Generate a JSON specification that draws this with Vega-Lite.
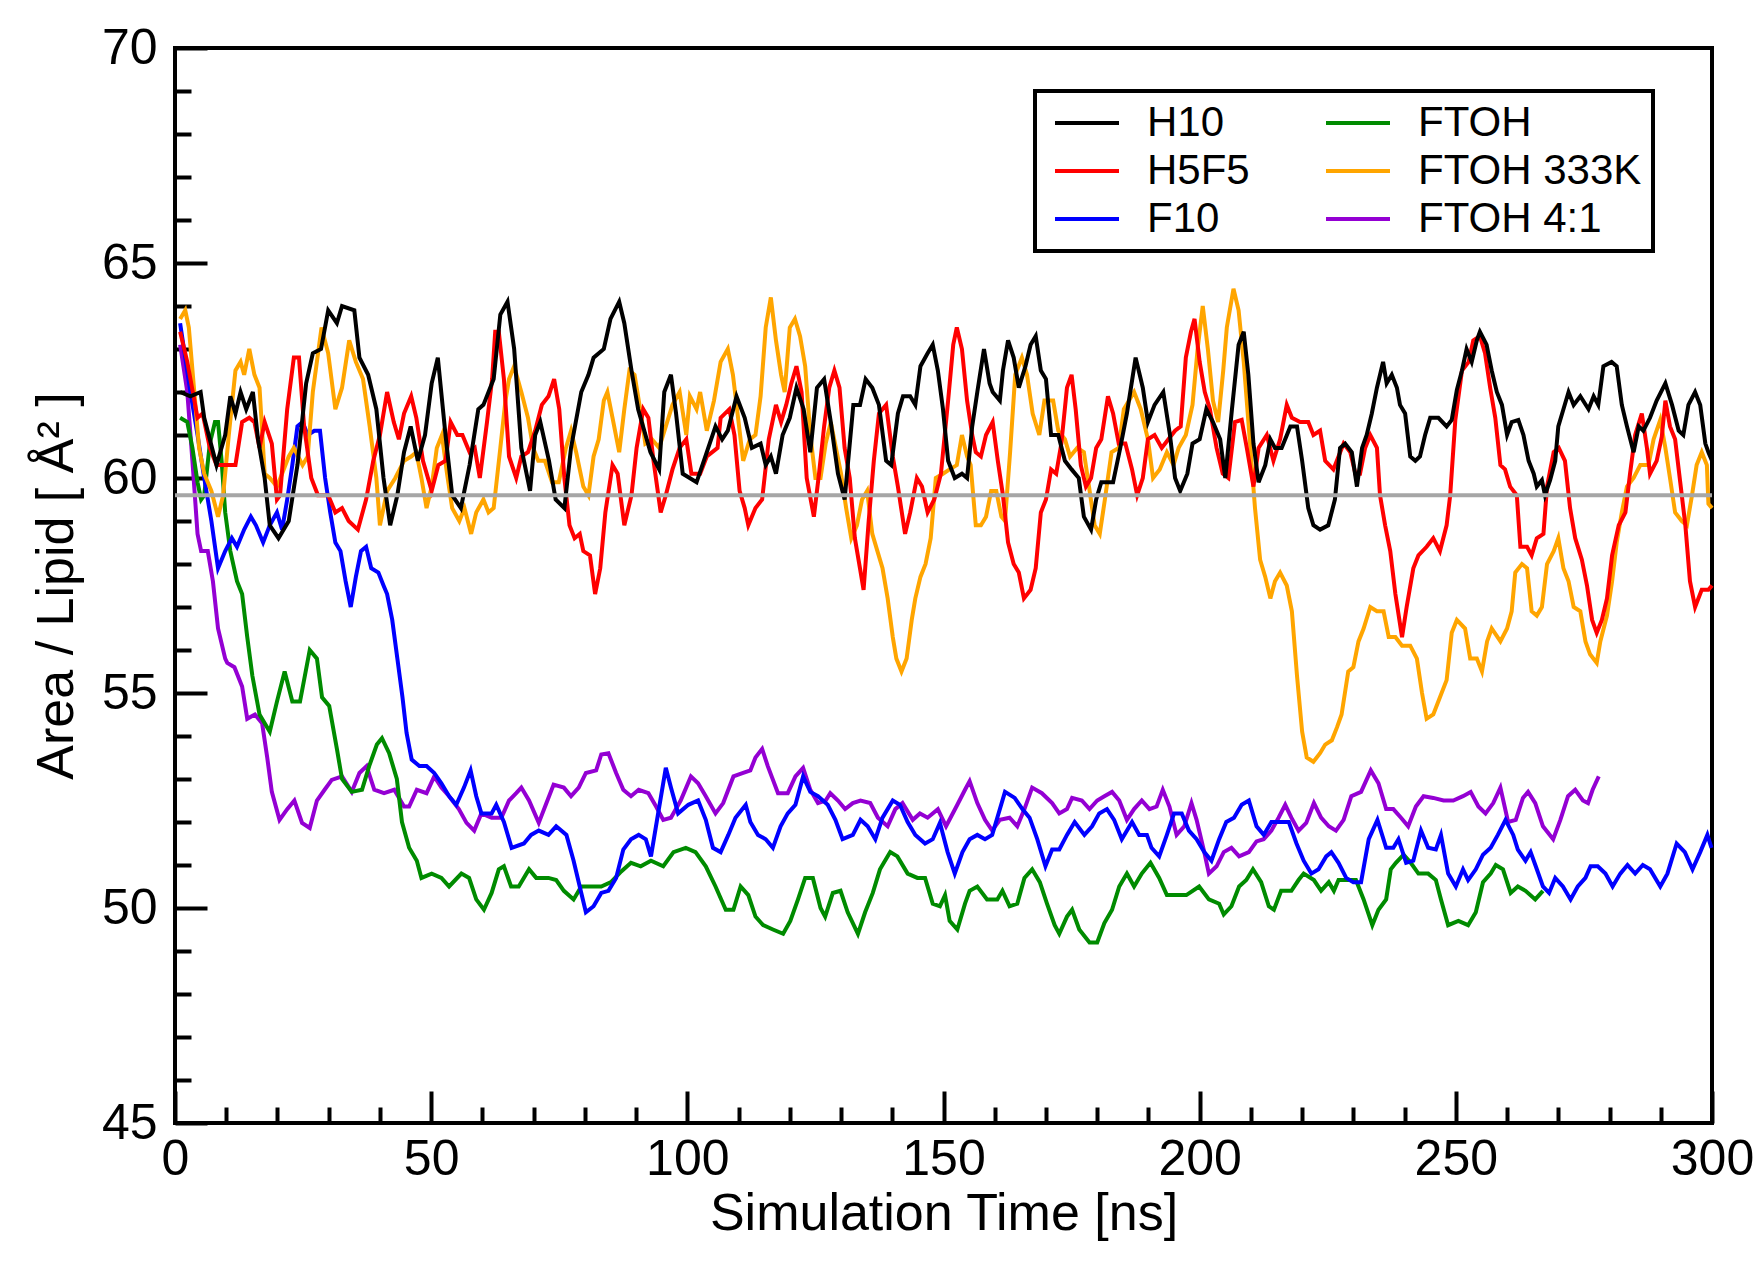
{
  "$schema": "https://vega.github.io/schema/vega-lite/v6.json",
  "width": 1537,
  "height": 1075,
  "autosize": "none",
  "padding": {"left": 175, "top": 48, "right": 52, "bottom": 143},
  "background": "white",
  "config": {
    "view": {"stroke": "black", "strokeWidth": 4},
    "axis": {
      "domain": false,
      "grid": false,
      "labelFont": "Liberation Sans",
      "labelFontSize": 50,
      "labelColor": "black",
      "labelFlush": false,
      "labelOverlap": false,
      "titleFont": "Liberation Sans",
      "titleFontSize": 52,
      "titleFontWeight": "normal",
      "titleColor": "black",
      "tickColor": "black",
      "tickWidth": 4
    },
    "legend": {"strokeWidth": 4},
    "line": {"strokeWidth": 4}
  },
  "layer": [
    {
      "encoding": {
        "x": {
          "field": "t",
          "type": "quantitative",
          "title": "Simulation Time [ns]",
          "scale": {"domain": [0, 300], "nice": false},
          "axis": {
            "values": [0,10,20,30,40,50,60,70,80,90,100,110,120,130,140,150,160,170,180,190,200,210,220,230,240,250,260,270,280,290,300],
            "labelExpr": "datum.value % 50 === 0 ? datum.label : ''",
            "tickSize": {"condition": {"test": "datum.value % 50 === 0", "value": -32}, "value": -16},
            "labelPadding": 43,
            "titlePadding": -12
          }
        },
        "y": {
          "field": "v",
          "type": "quantitative",
          "title": "Area / Lipid [ Å² ]",
          "scale": {"domain": [45, 70], "nice": false, "zero": false},
          "axis": {
            "values": [45,46,47,48,49,50,51,52,53,54,55,56,57,58,59,60,61,62,63,64,65,66,67,68,69,70],
            "labelExpr": "datum.value % 5 === 0 ? datum.label : ''",
            "tickSize": {"condition": {"test": "datum.value % 5 === 0", "value": -32}, "value": -16},
            "labelPadding": 50,
            "titlePadding": 18
          }
        }
      },
      "layer": [
        {
          "data": {"values": [{"t":1.0,"v":63.1},{"t":2.4,"v":62.0},{"t":3.4,"v":60.4},{"t":4.4,"v":58.7},{"t":5.1,"v":58.3},{"t":6.4,"v":58.3},{"t":7.4,"v":57.6},{"t":8.4,"v":56.5},{"t":9.8,"v":55.8},{"t":10.2,"v":55.7},{"t":11.6,"v":55.6},{"t":13.1,"v":55.15},{"t":14.1,"v":54.4},{"t":15.6,"v":54.5},{"t":17,"v":54.3},{"t":18,"v":53.5},{"t":18.9,"v":52.7},{"t":20.4,"v":52.05},{"t":21.9,"v":52.3},{"t":23.3,"v":52.5},{"t":24.8,"v":51.98},{"t":26.3,"v":51.86},{"t":27.7,"v":52.5},{"t":29.2,"v":52.75},{"t":30.6,"v":52.98},{"t":32.6,"v":53.06},{"t":34.5,"v":52.7},{"t":36,"v":53.14},{"t":37.4,"v":53.3},{"t":38.9,"v":52.75},{"t":40.8,"v":52.67},{"t":42.8,"v":52.75},{"t":44.7,"v":52.36},{"t":45.7,"v":52.36},{"t":47.2,"v":52.75},{"t":49.1,"v":52.67},{"t":50.6,"v":53.06},{"t":52,"v":52.8},{"t":53.5,"v":52.6},{"t":55.4,"v":52.3},{"t":56.9,"v":51.98},{"t":58.4,"v":51.8},{"t":59.8,"v":52.2},{"t":61.8,"v":52.1},{"t":63.7,"v":52.1},{"t":65.2,"v":52.5},{"t":66.6,"v":52.67},{"t":67.6,"v":52.8},{"t":69.1,"v":52.5},{"t":71,"v":51.98},{"t":72.5,"v":52.44},{"t":73.9,"v":52.87},{"t":75.9,"v":52.8},{"t":77.3,"v":52.6},{"t":78.8,"v":52.8},{"t":80.2,"v":53.14},{"t":82.2,"v":53.2},{"t":83.2,"v":53.57},{"t":84.6,"v":53.6},{"t":86.1,"v":53.14},{"t":87.5,"v":52.75},{"t":89,"v":52.6},{"t":90.5,"v":52.75},{"t":92.4,"v":52.67},{"t":93.9,"v":52.36},{"t":95.3,"v":52.05},{"t":96.8,"v":52.1},{"t":98.7,"v":52.5},{"t":100.7,"v":53.06},{"t":102.1,"v":52.9},{"t":103.6,"v":52.6},{"t":105.5,"v":52.2},{"t":107,"v":52.44},{"t":109,"v":53.06},{"t":110.9,"v":53.14},{"t":112.3,"v":53.2},{"t":113.3,"v":53.5},{"t":114.6,"v":53.7},{"t":115.7,"v":53.3},{"t":117.7,"v":52.67},{"t":119.6,"v":52.67},{"t":121.1,"v":53.06},{"t":122.6,"v":53.26},{"t":124,"v":52.75},{"t":125.5,"v":52.44},{"t":127,"v":52.5},{"t":127.9,"v":52.67},{"t":129.4,"v":52.5},{"t":130.8,"v":52.3},{"t":132.3,"v":52.44},{"t":133.8,"v":52.5},{"t":135.7,"v":52.44},{"t":137.2,"v":52.1},{"t":139.1,"v":51.9},{"t":140.6,"v":52.3},{"t":142,"v":52.44},{"t":144,"v":52.05},{"t":145.4,"v":52.2},{"t":146.9,"v":52.1},{"t":148.9,"v":52.3},{"t":150.5,"v":51.9},{"t":152.7,"v":52.4},{"t":154.2,"v":52.75},{"t":155.1,"v":52.95},{"t":156.6,"v":52.44},{"t":158.1,"v":52.05},{"t":159.5,"v":51.8},{"t":161,"v":52.05},{"t":162.9,"v":52.1},{"t":164.4,"v":51.9},{"t":165.8,"v":52.3},{"t":167.3,"v":52.8},{"t":169.2,"v":52.67},{"t":171.2,"v":52.44},{"t":172.6,"v":52.2},{"t":174.1,"v":52.3},{"t":175.1,"v":52.56},{"t":177,"v":52.5},{"t":178.5,"v":52.3},{"t":180,"v":52.5},{"t":181.4,"v":52.6},{"t":182.9,"v":52.7},{"t":184.3,"v":52.5},{"t":185.8,"v":52.05},{"t":187.2,"v":52.3},{"t":188.7,"v":52.5},{"t":190.2,"v":52.3},{"t":191.6,"v":52.36},{"t":192.8,"v":52.75},{"t":194.1,"v":52.36},{"t":195.5,"v":51.7},{"t":197,"v":51.9},{"t":198.4,"v":52.44},{"t":199.4,"v":52.05},{"t":200.9,"v":51.3},{"t":201.8,"v":50.8},{"t":203.3,"v":50.97},{"t":204.7,"v":51.3},{"t":206.2,"v":51.4},{"t":207.7,"v":51.2},{"t":209.6,"v":51.3},{"t":211.1,"v":51.55},{"t":212.5,"v":51.6},{"t":214,"v":51.8},{"t":215.4,"v":52.1},{"t":216.7,"v":52.4},{"t":217.9,"v":52.1},{"t":219.3,"v":51.8},{"t":220.8,"v":51.98},{"t":222.3,"v":52.44},{"t":223.7,"v":52.1},{"t":225.2,"v":51.9},{"t":226.6,"v":51.8},{"t":228.1,"v":52.05},{"t":229.6,"v":52.6},{"t":231.5,"v":52.7},{"t":233.4,"v":53.2},{"t":234.9,"v":52.9},{"t":236.4,"v":52.3},{"t":237.8,"v":52.3},{"t":239.3,"v":52.1},{"t":240.7,"v":51.9},{"t":242.2,"v":52.36},{"t":243.7,"v":52.6},{"t":245.6,"v":52.56},{"t":247.6,"v":52.5},{"t":249.5,"v":52.5},{"t":251.4,"v":52.6},{"t":252.9,"v":52.7},{"t":254.4,"v":52.36},{"t":255.8,"v":52.2},{"t":257.3,"v":52.44},{"t":258.7,"v":52.8},{"t":260.2,"v":52.0},{"t":261.7,"v":52.05},{"t":263.1,"v":52.56},{"t":264.1,"v":52.7},{"t":265.5,"v":52.44},{"t":267,"v":51.9},{"t":269,"v":51.6},{"t":270.4,"v":52.05},{"t":271.9,"v":52.6},{"t":273.3,"v":52.75},{"t":274.8,"v":52.5},{"t":275.8,"v":52.44},{"t":276.7,"v":52.75},{"t":277.9,"v":53.06}]},
          "mark": {"type": "line", "strokeWidth": 4},
          "encoding": {
            "color": {
              "datum": "FTOH 4:1",
              "type": "nominal",
              "scale": {
                "domain": ["H10", "H5F5", "F10", "FTOH", "FTOH 333K", "FTOH 4:1"],
                "range": ["#000000", "#ff0000", "#0000ff", "#008b00", "#ffa500", "#9400d3"]
              },
              "legend": {
                "title": null,
                "orient": "none",
                "legendX": 860,
                "legendY": 43,
                "columns": 2,
                "columnPadding": 67,
                "rowPadding": 6,
                "padding": 11,
                "strokeColor": "black",
                "fillColor": "white",
                "symbolType": "M-1.5,0H6.5",
                "symbolSize": 256,
                "symbolStrokeWidth": 4,
                "labelFont": "Liberation Sans",
                "labelFontSize": 42,
                "labelColor": "black",
                "labelOffset": 59,
                "labelLimit": 500
              }
            }
          }
        },
        {
          "data": {"values": [{"t":1.0,"v":61.4},{"t":2.4,"v":61.3},{"t":3.4,"v":60.7},{"t":4.4,"v":59.9},{"t":5.1,"v":59.5},{"t":5.7,"v":59.6},{"t":6.8,"v":60.8},{"t":7.8,"v":61.3},{"t":8.4,"v":61.3},{"t":9.1,"v":60.4},{"t":9.8,"v":59.2},{"t":10.8,"v":58.3},{"t":12.1,"v":57.6},{"t":13.1,"v":57.3},{"t":14.1,"v":56.3},{"t":15.1,"v":55.4},{"t":16.5,"v":54.5},{"t":18.5,"v":54.1},{"t":19.9,"v":54.8},{"t":21.4,"v":55.5},{"t":22.9,"v":54.8},{"t":24.4,"v":54.8},{"t":26.3,"v":56.0},{"t":27.7,"v":55.8},{"t":28.7,"v":54.9},{"t":30.1,"v":54.7},{"t":31.6,"v":53.7},{"t":32.6,"v":53.0},{"t":34.5,"v":52.7},{"t":36.5,"v":52.75},{"t":37.9,"v":53.3},{"t":39.4,"v":53.8},{"t":40.4,"v":53.95},{"t":41.8,"v":53.6},{"t":43.3,"v":53.0},{"t":44.3,"v":52.0},{"t":45.7,"v":51.4},{"t":47.2,"v":51.1},{"t":48.1,"v":50.7},{"t":50.1,"v":50.8},{"t":52,"v":50.7},{"t":53.5,"v":50.5},{"t":55.9,"v":50.8},{"t":57.4,"v":50.7},{"t":58.8,"v":50.2},{"t":60.3,"v":49.96},{"t":61.8,"v":50.35},{"t":63.2,"v":50.9},{"t":64.2,"v":50.97},{"t":65.6,"v":50.5},{"t":67.1,"v":50.5},{"t":69.1,"v":50.9},{"t":70.5,"v":50.7},{"t":72.9,"v":50.7},{"t":74.4,"v":50.65},{"t":75.9,"v":50.4},{"t":77.8,"v":50.2},{"t":79.3,"v":50.5},{"t":81.2,"v":50.5},{"t":83.2,"v":50.5},{"t":85.1,"v":50.6},{"t":87.1,"v":50.85},{"t":89,"v":51.05},{"t":90.9,"v":50.97},{"t":92.9,"v":51.1},{"t":95.3,"v":50.97},{"t":97.3,"v":51.3},{"t":99.7,"v":51.4},{"t":101.6,"v":51.3},{"t":103.6,"v":50.97},{"t":105.5,"v":50.5},{"t":107.5,"v":49.96},{"t":109,"v":49.96},{"t":110.4,"v":50.5},{"t":111.9,"v":50.3},{"t":113.3,"v":49.8},{"t":114.8,"v":49.6},{"t":116.7,"v":49.5},{"t":118.7,"v":49.4},{"t":120.1,"v":49.7},{"t":121.6,"v":50.2},{"t":123,"v":50.7},{"t":124.5,"v":50.7},{"t":126,"v":50.0},{"t":126.9,"v":49.8},{"t":128.4,"v":50.35},{"t":129.9,"v":50.4},{"t":131.3,"v":49.9},{"t":133.3,"v":49.4},{"t":134.7,"v":49.9},{"t":136.2,"v":50.35},{"t":137.6,"v":50.9},{"t":139.6,"v":51.3},{"t":141,"v":51.2},{"t":143,"v":50.8},{"t":144.9,"v":50.7},{"t":146.4,"v":50.7},{"t":147.9,"v":50.1},{"t":149.3,"v":50.04},{"t":150.3,"v":50.3},{"t":151.2,"v":49.7},{"t":152.7,"v":49.5},{"t":154.2,"v":50.1},{"t":155.1,"v":50.4},{"t":156.6,"v":50.5},{"t":158.5,"v":50.2},{"t":160.5,"v":50.2},{"t":161.5,"v":50.4},{"t":162.9,"v":50.04},{"t":164.4,"v":50.1},{"t":165.8,"v":50.7},{"t":167.3,"v":50.9},{"t":168.8,"v":50.6},{"t":170.2,"v":50.1},{"t":171.7,"v":49.6},{"t":172.6,"v":49.4},{"t":174.1,"v":49.8},{"t":175.1,"v":49.96},{"t":176.5,"v":49.5},{"t":178.5,"v":49.2},{"t":180,"v":49.2},{"t":181.4,"v":49.65},{"t":182.9,"v":49.96},{"t":184.3,"v":50.5},{"t":185.8,"v":50.8},{"t":187.2,"v":50.5},{"t":188.7,"v":50.8},{"t":190.4,"v":51.05},{"t":192.1,"v":50.7},{"t":193.6,"v":50.3},{"t":195.5,"v":50.3},{"t":197.4,"v":50.3},{"t":199.9,"v":50.5},{"t":201.8,"v":50.2},{"t":203.8,"v":50.1},{"t":204.7,"v":49.85},{"t":206.2,"v":50.04},{"t":207.7,"v":50.5},{"t":209.1,"v":50.65},{"t":210.4,"v":50.9},{"t":212,"v":50.6},{"t":213.5,"v":50.04},{"t":214.5,"v":49.96},{"t":215.9,"v":50.4},{"t":217.9,"v":50.4},{"t":219.3,"v":50.65},{"t":220.3,"v":50.8},{"t":222.3,"v":50.65},{"t":223.7,"v":50.4},{"t":225.2,"v":50.6},{"t":226.2,"v":50.4},{"t":227.1,"v":50.65},{"t":228.6,"v":50.65},{"t":230.5,"v":50.65},{"t":232,"v":50.2},{"t":233.7,"v":49.6},{"t":234.9,"v":49.96},{"t":236.4,"v":50.2},{"t":237.3,"v":50.9},{"t":238.3,"v":51.05},{"t":239.8,"v":51.24},{"t":241.2,"v":51.05},{"t":242.7,"v":50.8},{"t":244.6,"v":50.8},{"t":246.1,"v":50.65},{"t":247.1,"v":50.2},{"t":248.5,"v":49.6},{"t":250.5,"v":49.7},{"t":252.4,"v":49.6},{"t":253.9,"v":49.9},{"t":255.3,"v":50.6},{"t":256.8,"v":50.8},{"t":257.8,"v":51.0},{"t":259.2,"v":50.9},{"t":260.7,"v":50.35},{"t":262.1,"v":50.5},{"t":263.6,"v":50.4},{"t":265.5,"v":50.2},{"t":267,"v":50.4}]},
          "mark": {"type": "line", "strokeWidth": 4},
          "encoding": {"color": {"datum": "FTOH", "type": "nominal"}}
        },
        {
          "data": {"values": [{"t":1.0,"v":63.6},{"t":3,"v":62.0},{"t":4.4,"v":61.0},{"t":5.7,"v":60.0},{"t":7.1,"v":59.0},{"t":8.4,"v":57.9},{"t":9.8,"v":58.3},{"t":11.1,"v":58.6},{"t":12.1,"v":58.4},{"t":13.5,"v":58.8},{"t":14.8,"v":59.1},{"t":15.8,"v":58.9},{"t":17.2,"v":58.5},{"t":18.5,"v":58.9},{"t":19.9,"v":59.2},{"t":20.9,"v":58.8},{"t":21.9,"v":59.5},{"t":22.9,"v":60.3},{"t":23.9,"v":61.2},{"t":24.9,"v":61.3},{"t":25.9,"v":61.0},{"t":27.2,"v":61.1},{"t":28.3,"v":61.1},{"t":29.3,"v":60.0},{"t":30.3,"v":59.2},{"t":31.3,"v":58.5},{"t":32.3,"v":58.3},{"t":33.3,"v":57.6},{"t":34.3,"v":57.0},{"t":35.3,"v":57.7},{"t":36.3,"v":58.3},{"t":37.3,"v":58.4},{"t":38.3,"v":57.9},{"t":39.7,"v":57.8},{"t":40.7,"v":57.5},{"t":41.4,"v":57.3},{"t":42.4,"v":56.7},{"t":43.4,"v":55.8},{"t":44.4,"v":54.9},{"t":45.2,"v":54.07},{"t":46.2,"v":53.45},{"t":47.7,"v":53.3},{"t":49.1,"v":53.3},{"t":50.6,"v":53.14},{"t":52,"v":52.9},{"t":53.5,"v":52.6},{"t":54.9,"v":52.4},{"t":56.4,"v":52.8},{"t":57.7,"v":53.2},{"t":58.8,"v":52.6},{"t":59.8,"v":52.2},{"t":61.8,"v":52.2},{"t":62.7,"v":52.4},{"t":64.2,"v":52.0},{"t":65.7,"v":51.4},{"t":68.1,"v":51.5},{"t":69.5,"v":51.7},{"t":71,"v":51.8},{"t":72.9,"v":51.7},{"t":74.4,"v":51.9},{"t":76.4,"v":51.7},{"t":77.8,"v":51.1},{"t":79.3,"v":50.35},{"t":80.2,"v":49.9},{"t":81.7,"v":50.04},{"t":83.2,"v":50.35},{"t":84.6,"v":50.4},{"t":86.1,"v":50.7},{"t":87.5,"v":51.36},{"t":89,"v":51.6},{"t":90.5,"v":51.7},{"t":91.9,"v":51.6},{"t":92.9,"v":51.2},{"t":94.3,"v":52.2},{"t":95.8,"v":53.26},{"t":96.8,"v":52.8},{"t":98.2,"v":52.2},{"t":100.2,"v":52.4},{"t":102.1,"v":52.5},{"t":103.6,"v":52.05},{"t":105,"v":51.4},{"t":106.5,"v":51.3},{"t":108,"v":51.7},{"t":109.4,"v":52.1},{"t":111.4,"v":52.4},{"t":112.3,"v":52.0},{"t":113.8,"v":51.7},{"t":115.3,"v":51.6},{"t":116.7,"v":51.4},{"t":118.2,"v":51.9},{"t":119.6,"v":52.2},{"t":121.1,"v":52.4},{"t":122.6,"v":53.06},{"t":124,"v":52.7},{"t":125.5,"v":52.6},{"t":127.4,"v":52.4},{"t":128.9,"v":52.05},{"t":130.3,"v":51.6},{"t":132.3,"v":51.7},{"t":133.8,"v":52.05},{"t":135.2,"v":51.9},{"t":136.7,"v":51.6},{"t":138.1,"v":52.1},{"t":140.1,"v":52.5},{"t":141.5,"v":52.4},{"t":143,"v":52.0},{"t":144.5,"v":51.7},{"t":146.4,"v":51.5},{"t":147.9,"v":51.6},{"t":149.3,"v":51.98},{"t":150.8,"v":51.3},{"t":152.2,"v":50.8},{"t":153.7,"v":51.3},{"t":155.1,"v":51.6},{"t":156.6,"v":51.7},{"t":158.1,"v":51.6},{"t":159.5,"v":51.7},{"t":160.5,"v":52.1},{"t":162,"v":52.7},{"t":163.9,"v":52.56},{"t":165.4,"v":52.3},{"t":166.8,"v":52.1},{"t":168.3,"v":51.6},{"t":169.9,"v":50.97},{"t":171.2,"v":51.36},{"t":172.6,"v":51.36},{"t":174.1,"v":51.7},{"t":175.6,"v":52.0},{"t":177.5,"v":51.7},{"t":179,"v":51.9},{"t":180.4,"v":52.2},{"t":181.9,"v":52.3},{"t":183.3,"v":52.05},{"t":184.8,"v":51.6},{"t":186.8,"v":52.0},{"t":188.2,"v":51.7},{"t":189.7,"v":51.7},{"t":190.6,"v":51.4},{"t":192.1,"v":51.2},{"t":193.6,"v":51.7},{"t":195,"v":52.2},{"t":196.5,"v":52.2},{"t":197.9,"v":51.8},{"t":199.4,"v":51.6},{"t":200.9,"v":51.3},{"t":202.3,"v":51.1},{"t":203.8,"v":51.6},{"t":205.2,"v":52.0},{"t":206.7,"v":52.1},{"t":208.2,"v":52.4},{"t":209.6,"v":52.5},{"t":211.1,"v":51.9},{"t":212.5,"v":51.7},{"t":214,"v":52.0},{"t":216,"v":52.0},{"t":217.4,"v":52.0},{"t":218.9,"v":51.5},{"t":220.3,"v":51.1},{"t":221.8,"v":50.8},{"t":223.2,"v":50.9},{"t":224.7,"v":51.2},{"t":225.7,"v":51.3},{"t":227.1,"v":51.05},{"t":228.6,"v":50.7},{"t":230,"v":50.6},{"t":231.5,"v":50.6},{"t":233,"v":51.6},{"t":234.7,"v":52.05},{"t":236.4,"v":51.4},{"t":237.8,"v":51.4},{"t":238.8,"v":51.6},{"t":240.3,"v":51.05},{"t":241.7,"v":51.1},{"t":243.2,"v":51.8},{"t":244.6,"v":51.4},{"t":246.1,"v":51.36},{"t":247.1,"v":51.7},{"t":248.5,"v":50.8},{"t":250,"v":50.5},{"t":251.4,"v":50.9},{"t":252.4,"v":50.65},{"t":253.9,"v":50.9},{"t":255.3,"v":51.24},{"t":256.8,"v":51.4},{"t":258.2,"v":51.7},{"t":259.7,"v":52.05},{"t":261.2,"v":51.7},{"t":262.1,"v":51.36},{"t":263.6,"v":51.1},{"t":264.6,"v":51.3},{"t":265.6,"v":50.97},{"t":267,"v":50.5},{"t":268.2,"v":50.35},{"t":269.4,"v":50.7},{"t":270.9,"v":50.5},{"t":272.4,"v":50.2},{"t":273.8,"v":50.5},{"t":275.3,"v":50.7},{"t":276.3,"v":50.97},{"t":277.7,"v":50.97},{"t":279.2,"v":50.8},{"t":280.6,"v":50.5},{"t":282.1,"v":50.8},{"t":283.5,"v":51.0},{"t":285,"v":50.8},{"t":286.5,"v":51.0},{"t":287.9,"v":50.9},{"t":289.9,"v":50.5},{"t":291.3,"v":50.8},{"t":293.1,"v":51.5},{"t":294.7,"v":51.3},{"t":296.2,"v":50.9},{"t":297.7,"v":51.3},{"t":299.1,"v":51.7},{"t":299.9,"v":51.4}]},
          "mark": {"type": "line", "strokeWidth": 4},
          "encoding": {"color": {"datum": "F10", "type": "nominal"}}
        },
        {
          "data": {"values": [{"t":1.0,"v":63.7},{"t":2,"v":63.9},{"t":2.7,"v":63.5},{"t":3.7,"v":62.1},{"t":4.7,"v":60.7},{"t":5.7,"v":60.1},{"t":7.1,"v":59.7},{"t":8.4,"v":59.1},{"t":9.4,"v":59.6},{"t":10.5,"v":61.0},{"t":11.8,"v":62.5},{"t":12.8,"v":62.7},{"t":13.5,"v":62.4},{"t":14.5,"v":63.0},{"t":15.5,"v":62.4},{"t":16.5,"v":62.1},{"t":17.5,"v":60.1},{"t":18.5,"v":60.0},{"t":19.9,"v":59.8},{"t":20.9,"v":60.1},{"t":22.2,"v":60.5},{"t":23.2,"v":60.7},{"t":24.9,"v":60.3},{"t":25.9,"v":60.5},{"t":26.9,"v":62.0},{"t":28.6,"v":63.5},{"t":29.9,"v":62.9},{"t":31.3,"v":61.6},{"t":32.6,"v":62.1},{"t":34,"v":63.2},{"t":35.3,"v":62.7},{"t":36.7,"v":62.3},{"t":38,"v":61.2},{"t":39.3,"v":60.0},{"t":40,"v":58.9},{"t":41.4,"v":59.7},{"t":43,"v":60.0},{"t":44.7,"v":60.4},{"t":46.1,"v":60.5},{"t":47.1,"v":60.6},{"t":48.1,"v":60.0},{"t":49.1,"v":59.3},{"t":50.1,"v":59.8},{"t":51.1,"v":60.7},{"t":52.1,"v":61.0},{"t":53.1,"v":60.1},{"t":54.1,"v":59.3},{"t":55.5,"v":59.0},{"t":56.5,"v":59.3},{"t":57.8,"v":58.7},{"t":58.8,"v":59.2},{"t":60.2,"v":59.5},{"t":61.2,"v":59.2},{"t":62.2,"v":59.3},{"t":63.5,"v":60.7},{"t":64.5,"v":61.8},{"t":65.2,"v":62.3},{"t":66.2,"v":62.6},{"t":67.6,"v":62.0},{"t":68.9,"v":61.4},{"t":69.9,"v":60.7},{"t":70.9,"v":60.4},{"t":72.2,"v":60.4},{"t":73.6,"v":59.9},{"t":74.9,"v":59.9},{"t":76.3,"v":60.7},{"t":77.3,"v":61.1},{"t":78.3,"v":60.6},{"t":79.7,"v":59.8},{"t":80.7,"v":59.6},{"t":81.7,"v":60.5},{"t":82.7,"v":60.9},{"t":83.7,"v":61.8},{"t":84.4,"v":62.0},{"t":85.4,"v":61.4},{"t":86.7,"v":60.6},{"t":87.7,"v":61.6},{"t":88.7,"v":62.5},{"t":89.7,"v":62.4},{"t":90.8,"v":61.6},{"t":91.8,"v":60.8},{"t":93.1,"v":60.9},{"t":94.5,"v":60.7},{"t":95.8,"v":61.2},{"t":97.1,"v":61.7},{"t":98.5,"v":62.0},{"t":99.8,"v":61.0},{"t":100.5,"v":61.9},{"t":101.8,"v":61.6},{"t":102.5,"v":62.0},{"t":103.8,"v":61.1},{"t":105.2,"v":61.8},{"t":106.5,"v":62.7},{"t":107.9,"v":63.0},{"t":108.9,"v":62.4},{"t":109.9,"v":61.4},{"t":110.9,"v":60.4},{"t":112.2,"v":60.9},{"t":113.3,"v":61.0},{"t":114.3,"v":61.9},{"t":115.3,"v":63.5},{"t":116.3,"v":64.2},{"t":117.3,"v":63.2},{"t":118.3,"v":62.4},{"t":119,"v":62.0},{"t":120,"v":63.5},{"t":121,"v":63.7},{"t":122,"v":63.3},{"t":123,"v":62.6},{"t":124,"v":61.0},{"t":125,"v":60.0},{"t":126,"v":60.0},{"t":127,"v":60.8},{"t":128,"v":61.3},{"t":129,"v":60.7},{"t":130,"v":60.1},{"t":131,"v":59.3},{"t":132,"v":58.6},{"t":133.1,"v":58.9},{"t":134.1,"v":59.5},{"t":135.1,"v":59.7},{"t":136.1,"v":58.7},{"t":137.1,"v":58.3},{"t":138.1,"v":57.9},{"t":139.1,"v":57.2},{"t":140.1,"v":56.3},{"t":140.8,"v":55.8},{"t":141.8,"v":55.5},{"t":142.8,"v":55.8},{"t":143.8,"v":56.7},{"t":144.5,"v":57.2},{"t":145.5,"v":57.7},{"t":146.5,"v":58.0},{"t":147.5,"v":58.6},{"t":148.5,"v":60.0},{"t":149.9,"v":60.1},{"t":151.2,"v":60.2},{"t":152.6,"v":60.3},{"t":153.6,"v":61.0},{"t":154.6,"v":60.5},{"t":155.3,"v":60.3},{"t":156.3,"v":58.9},{"t":157.3,"v":58.9},{"t":158.3,"v":59.1},{"t":159.3,"v":59.7},{"t":160.3,"v":59.7},{"t":161.3,"v":59.1},{"t":162,"v":59.0},{"t":163,"v":60.6},{"t":164,"v":62.4},{"t":165.3,"v":62.8},{"t":166.3,"v":62.4},{"t":167.4,"v":61.5},{"t":168.7,"v":61.0},{"t":169.7,"v":61.8},{"t":171.4,"v":61.8},{"t":172.4,"v":61.1},{"t":173.7,"v":60.9},{"t":174.7,"v":60.5},{"t":176.1,"v":60.7},{"t":177.4,"v":60.6},{"t":178.4,"v":59.8},{"t":179.5,"v":58.9},{"t":180.5,"v":58.7},{"t":181.5,"v":59.5},{"t":182.8,"v":60.6},{"t":184.2,"v":60.7},{"t":185.2,"v":61.6},{"t":187.2,"v":62.0},{"t":188.5,"v":61.6},{"t":189.9,"v":60.9},{"t":190.9,"v":60.0},{"t":192.2,"v":60.2},{"t":193.6,"v":60.6},{"t":194.9,"v":60.3},{"t":195.9,"v":60.7},{"t":197.3,"v":61.0},{"t":198.6,"v":61.7},{"t":199.6,"v":63.0},{"t":200.6,"v":64.0},{"t":201.6,"v":63.0},{"t":202.6,"v":61.8},{"t":203.6,"v":61.3},{"t":204.6,"v":62.5},{"t":205.3,"v":63.5},{"t":206.6,"v":64.4},{"t":207.6,"v":63.9},{"t":208.6,"v":62.7},{"t":209.9,"v":60.7},{"t":210.8,"v":59.3},{"t":211.8,"v":58.1},{"t":212.8,"v":57.7},{"t":213.8,"v":57.2},{"t":214.7,"v":57.6},{"t":215.7,"v":57.8},{"t":217,"v":57.5},{"t":218,"v":56.9},{"t":219,"v":55.4},{"t":220,"v":54.1},{"t":220.9,"v":53.5},{"t":222.2,"v":53.4},{"t":223.5,"v":53.6},{"t":224.5,"v":53.8},{"t":225.8,"v":53.9},{"t":226.8,"v":54.2},{"t":227.7,"v":54.5},{"t":229,"v":55.5},{"t":230,"v":55.6},{"t":231,"v":56.2},{"t":232,"v":56.5},{"t":233.3,"v":57.0},{"t":234.6,"v":56.9},{"t":235.9,"v":56.9},{"t":236.9,"v":56.3},{"t":238.2,"v":56.3},{"t":239.5,"v":56.1},{"t":241.1,"v":56.1},{"t":242.4,"v":55.8},{"t":243.4,"v":55.0},{"t":244.3,"v":54.4},{"t":245.6,"v":54.5},{"t":246.9,"v":54.9},{"t":248.2,"v":55.3},{"t":249.2,"v":56.4},{"t":250.2,"v":56.7},{"t":251.8,"v":56.5},{"t":252.8,"v":55.8},{"t":254.1,"v":55.8},{"t":255.1,"v":55.5},{"t":256.1,"v":56.2},{"t":257,"v":56.5},{"t":258.7,"v":56.2},{"t":260,"v":56.5},{"t":260.9,"v":56.9},{"t":261.6,"v":57.8},{"t":262.9,"v":58.0},{"t":263.9,"v":57.9},{"t":264.8,"v":56.9},{"t":265.8,"v":56.8},{"t":266.8,"v":57.0},{"t":267.8,"v":58.0},{"t":269.1,"v":58.3},{"t":270,"v":58.6},{"t":271,"v":57.9},{"t":272,"v":57.6},{"t":273,"v":57.0},{"t":274.3,"v":56.9},{"t":275.3,"v":56.2},{"t":276.2,"v":55.9},{"t":277.5,"v":55.7},{"t":278.2,"v":56.2},{"t":279.5,"v":56.8},{"t":280.5,"v":57.6},{"t":281.4,"v":58.5},{"t":282.4,"v":59.2},{"t":283.4,"v":59.8},{"t":284.7,"v":60.0},{"t":286,"v":60.3},{"t":287.6,"v":60.3},{"t":288.6,"v":60.9},{"t":289.9,"v":61.35},{"t":290.9,"v":60.7},{"t":291.8,"v":60.0},{"t":292.8,"v":59.2},{"t":294.1,"v":59.0},{"t":295.1,"v":58.9},{"t":296.1,"v":59.6},{"t":297,"v":60.3},{"t":298,"v":60.6},{"t":299,"v":60.3},{"t":299.3,"v":59.4},{"t":300,"v":59.3}]},
          "mark": {"type": "line", "strokeWidth": 4},
          "encoding": {"color": {"datum": "FTOH 333K", "type": "nominal"}}
        },
        {
          "data": {"values": [{"t":1.0,"v":63.4},{"t":2.4,"v":62.7},{"t":4.4,"v":61.4},{"t":5.4,"v":61.5},{"t":6.8,"v":60.7},{"t":8.1,"v":60.3},{"t":9.8,"v":60.3},{"t":11.8,"v":60.3},{"t":13.1,"v":61.3},{"t":14.5,"v":61.4},{"t":15.5,"v":61.3},{"t":16.5,"v":60.7},{"t":17.5,"v":61.3},{"t":18.9,"v":60.8},{"t":19.9,"v":59.5},{"t":20.5,"v":59.6},{"t":21.9,"v":61.6},{"t":23.2,"v":62.8},{"t":24.2,"v":62.8},{"t":25.2,"v":61.2},{"t":26.6,"v":60.0},{"t":27.9,"v":59.6},{"t":29.9,"v":59.6},{"t":31.3,"v":59.2},{"t":32.6,"v":59.3},{"t":33.9,"v":59.0},{"t":35.7,"v":58.8},{"t":37.3,"v":59.5},{"t":38.7,"v":60.4},{"t":40,"v":61.0},{"t":41.4,"v":62.0},{"t":42.7,"v":61.3},{"t":43.7,"v":60.9},{"t":44.7,"v":61.5},{"t":46.1,"v":61.9},{"t":47.1,"v":61.4},{"t":48.4,"v":60.4},{"t":50.1,"v":59.7},{"t":51.4,"v":60.3},{"t":52.8,"v":60.4},{"t":53.8,"v":61.3},{"t":55.1,"v":61.0},{"t":56.1,"v":61.0},{"t":57.5,"v":60.6},{"t":58.5,"v":60.7},{"t":59.5,"v":60.0},{"t":60.9,"v":61.3},{"t":61.9,"v":62.3},{"t":62.5,"v":63.4},{"t":63.2,"v":63.4},{"t":64.2,"v":62.3},{"t":65.2,"v":60.5},{"t":66.6,"v":60.0},{"t":67.6,"v":60.5},{"t":68.9,"v":60.6},{"t":70.3,"v":61.1},{"t":71.6,"v":61.7},{"t":72.9,"v":61.9},{"t":74,"v":62.3},{"t":75,"v":61.6},{"t":76,"v":60.0},{"t":77,"v":58.9},{"t":78,"v":58.6},{"t":79,"v":58.7},{"t":79.7,"v":58.3},{"t":81,"v":58.2},{"t":82,"v":57.3},{"t":83,"v":57.9},{"t":84,"v":59.2},{"t":85.4,"v":60.3},{"t":86.4,"v":60.1},{"t":87.7,"v":58.9},{"t":89.1,"v":59.6},{"t":90.1,"v":60.7},{"t":91.4,"v":61.6},{"t":92.4,"v":61.4},{"t":93.4,"v":60.4},{"t":94.8,"v":59.2},{"t":95.8,"v":59.6},{"t":97.1,"v":60.2},{"t":98.5,"v":60.7},{"t":99.8,"v":60.9},{"t":100.8,"v":60.1},{"t":102.5,"v":60.1},{"t":103.8,"v":60.5},{"t":105.9,"v":60.7},{"t":106.5,"v":61.4},{"t":108.2,"v":61.6},{"t":109.2,"v":61.0},{"t":110.2,"v":59.7},{"t":111.2,"v":59.3},{"t":111.9,"v":58.9},{"t":113.3,"v":59.3},{"t":114.6,"v":59.5},{"t":115.9,"v":60.9},{"t":117.3,"v":61.7},{"t":118.3,"v":61.3},{"t":119.3,"v":61.7},{"t":120.3,"v":62.2},{"t":121.3,"v":62.6},{"t":122.3,"v":62.0},{"t":123.3,"v":60.0},{"t":124.7,"v":59.1},{"t":125.7,"v":60.1},{"t":126.7,"v":61.2},{"t":127.7,"v":62.1},{"t":128.7,"v":62.5},{"t":129.7,"v":62.1},{"t":130.7,"v":60.7},{"t":131.7,"v":60.0},{"t":132.7,"v":58.6},{"t":133.7,"v":57.9},{"t":134.4,"v":57.4},{"t":135.4,"v":59.0},{"t":136.4,"v":60.4},{"t":137.4,"v":61.5},{"t":138.8,"v":61.7},{"t":140.1,"v":60.5},{"t":141.1,"v":59.8},{"t":142.5,"v":58.7},{"t":143.5,"v":59.2},{"t":144.8,"v":60.0},{"t":145.8,"v":59.8},{"t":146.9,"v":59.2},{"t":148.2,"v":59.5},{"t":149.5,"v":60.1},{"t":150.9,"v":61.8},{"t":151.9,"v":63.1},{"t":152.6,"v":63.5},{"t":153.6,"v":63.0},{"t":154.6,"v":61.8},{"t":155.6,"v":61.0},{"t":156.3,"v":60.6},{"t":157.3,"v":60.5},{"t":158.3,"v":61.0},{"t":159.6,"v":61.3},{"t":160.6,"v":60.4},{"t":161.6,"v":59.6},{"t":162.6,"v":58.5},{"t":163.7,"v":58.0},{"t":164.7,"v":57.8},{"t":165.7,"v":57.2},{"t":167,"v":57.4},{"t":168,"v":57.9},{"t":169,"v":59.2},{"t":170,"v":59.5},{"t":171,"v":60.2},{"t":172,"v":60.1},{"t":173,"v":60.8},{"t":174.1,"v":62.1},{"t":175,"v":62.4},{"t":175.8,"v":61.6},{"t":176.8,"v":60.3},{"t":177.8,"v":59.8},{"t":178.8,"v":60.0},{"t":179.8,"v":60.7},{"t":180.8,"v":60.9},{"t":182.1,"v":61.9},{"t":183.1,"v":61.5},{"t":184.2,"v":60.8},{"t":185.5,"v":60.8},{"t":186.8,"v":60.2},{"t":187.8,"v":59.6},{"t":188.9,"v":60.0},{"t":189.9,"v":60.9},{"t":191.2,"v":61.0},{"t":192.6,"v":60.7},{"t":193.9,"v":60.9},{"t":195.2,"v":61.1},{"t":196.3,"v":61.2},{"t":197.3,"v":62.8},{"t":198.3,"v":63.4},{"t":199,"v":63.7},{"t":200,"v":62.7},{"t":201,"v":62.0},{"t":202,"v":61.6},{"t":203.3,"v":60.7},{"t":204.5,"v":60.1},{"t":205.6,"v":60.0},{"t":206.9,"v":61.3},{"t":208.2,"v":61.35},{"t":209.2,"v":60.7},{"t":210.5,"v":59.8},{"t":211.5,"v":60.7},{"t":213.1,"v":61.0},{"t":214.4,"v":60.4},{"t":215.7,"v":60.9},{"t":217,"v":61.7},{"t":218,"v":61.4},{"t":219.6,"v":61.3},{"t":221.2,"v":61.3},{"t":222.2,"v":61.0},{"t":223.5,"v":61.1},{"t":224.5,"v":60.4},{"t":226.1,"v":60.2},{"t":227.1,"v":60.5},{"t":228.1,"v":60.8},{"t":229.4,"v":60.6},{"t":230.4,"v":60.1},{"t":231.3,"v":60.1},{"t":232.3,"v":60.7},{"t":233.3,"v":61.0},{"t":234.6,"v":60.7},{"t":235.2,"v":59.6},{"t":236.2,"v":58.9},{"t":237.2,"v":58.3},{"t":238.2,"v":57.3},{"t":239.5,"v":56.3},{"t":240.4,"v":57.0},{"t":241.7,"v":57.9},{"t":242.7,"v":58.2},{"t":244.3,"v":58.4},{"t":245.6,"v":58.6},{"t":246.9,"v":58.3},{"t":248.2,"v":58.9},{"t":248.9,"v":59.6},{"t":249.9,"v":61.35},{"t":251.2,"v":62.5},{"t":252.5,"v":62.7},{"t":253.4,"v":63.2},{"t":254.7,"v":63.3},{"t":255.7,"v":62.9},{"t":256.7,"v":62.1},{"t":257.7,"v":61.4},{"t":258.7,"v":60.3},{"t":259.6,"v":60.2},{"t":260.6,"v":59.8},{"t":261.9,"v":59.6},{"t":262.6,"v":58.4},{"t":263.9,"v":58.4},{"t":264.8,"v":58.2},{"t":265.8,"v":58.6},{"t":267.1,"v":58.7},{"t":267.8,"v":59.8},{"t":269.1,"v":60.6},{"t":270.1,"v":60.7},{"t":271.3,"v":60.4},{"t":272.3,"v":59.3},{"t":273.3,"v":58.6},{"t":274.6,"v":58.1},{"t":275.6,"v":57.5},{"t":276.6,"v":56.7},{"t":277.5,"v":56.4},{"t":278.5,"v":56.7},{"t":279.5,"v":57.2},{"t":280.5,"v":58.2},{"t":281.8,"v":58.9},{"t":283.1,"v":59.2},{"t":284,"v":60.1},{"t":285,"v":61.0},{"t":286.3,"v":61.5},{"t":287.3,"v":60.7},{"t":287.9,"v":60.1},{"t":289.2,"v":60.4},{"t":290.2,"v":60.96},{"t":290.9,"v":61.8},{"t":291.8,"v":61.2},{"t":292.8,"v":60.9},{"t":293.8,"v":59.9},{"t":294.8,"v":58.9},{"t":295.7,"v":57.6},{"t":296.7,"v":57.0},{"t":298,"v":57.4},{"t":299.3,"v":57.4},{"t":300,"v":57.5}]},
          "mark": {"type": "line", "strokeWidth": 4},
          "encoding": {"color": {"datum": "H5F5", "type": "nominal"}}
        },
        {
          "data": {"values": [{"t":1.0,"v":62.0},{"t":3,"v":61.9},{"t":5,"v":62.0},{"t":5.7,"v":61.4},{"t":8.1,"v":60.3},{"t":9.8,"v":61.0},{"t":10.8,"v":61.9},{"t":11.8,"v":61.5},{"t":12.8,"v":62.0},{"t":13.9,"v":61.6},{"t":15.2,"v":62.0},{"t":16.2,"v":60.9},{"t":17.5,"v":60.0},{"t":18.5,"v":58.9},{"t":20.2,"v":58.6},{"t":22.2,"v":59.0},{"t":23.9,"v":60.3},{"t":25.6,"v":62.2},{"t":26.9,"v":62.9},{"t":28.5,"v":63.0},{"t":29.9,"v":63.9},{"t":31.6,"v":63.6},{"t":32.6,"v":64.0},{"t":35,"v":63.9},{"t":36,"v":62.8},{"t":37.7,"v":62.4},{"t":39.3,"v":61.6},{"t":40.7,"v":60.0},{"t":42,"v":58.9},{"t":43.4,"v":59.6},{"t":44.7,"v":60.6},{"t":46,"v":61.2},{"t":47.4,"v":60.4},{"t":48.8,"v":61.0},{"t":50.1,"v":62.2},{"t":51.3,"v":62.8},{"t":52.8,"v":61.0},{"t":54.1,"v":59.6},{"t":55.8,"v":59.3},{"t":57.5,"v":60.3},{"t":59.2,"v":61.6},{"t":60.2,"v":61.7},{"t":62.2,"v":62.3},{"t":63.5,"v":63.8},{"t":64.9,"v":64.1},{"t":66.2,"v":63.0},{"t":67.6,"v":60.7},{"t":69.3,"v":59.7},{"t":70.3,"v":61.0},{"t":71.3,"v":61.3},{"t":73,"v":60.4},{"t":74.3,"v":59.5},{"t":76,"v":59.3},{"t":77.3,"v":60.7},{"t":79.3,"v":62.0},{"t":80.7,"v":62.4},{"t":81.7,"v":62.8},{"t":83.7,"v":63.0},{"t":85,"v":63.7},{"t":86.7,"v":64.1},{"t":87.7,"v":63.6},{"t":89.1,"v":62.5},{"t":90.4,"v":61.6},{"t":92.8,"v":60.6},{"t":94.5,"v":60.2},{"t":95.5,"v":62.0},{"t":96.8,"v":62.4},{"t":97.8,"v":61.5},{"t":99.1,"v":60.1},{"t":101.8,"v":59.9},{"t":103.8,"v":60.6},{"t":105.5,"v":61.2},{"t":106.8,"v":60.9},{"t":107.9,"v":61.1},{"t":109.6,"v":61.9},{"t":111.2,"v":61.4},{"t":112.6,"v":60.7},{"t":114.3,"v":60.8},{"t":115.3,"v":60.3},{"t":116.3,"v":60.5},{"t":117.3,"v":60.1},{"t":118.6,"v":61.0},{"t":120,"v":61.4},{"t":121.3,"v":62.1},{"t":122.7,"v":61.6},{"t":124,"v":60.6},{"t":125.3,"v":62.1},{"t":126.7,"v":62.3},{"t":128,"v":61.3},{"t":129.4,"v":60.1},{"t":130.7,"v":59.5},{"t":132.4,"v":61.7},{"t":133.7,"v":61.7},{"t":134.8,"v":62.3},{"t":136.1,"v":62.1},{"t":137.4,"v":61.7},{"t":138.8,"v":60.4},{"t":139.8,"v":60.3},{"t":141.1,"v":61.5},{"t":142.1,"v":61.9},{"t":143.5,"v":61.9},{"t":144.5,"v":61.7},{"t":145.5,"v":62.6},{"t":146.9,"v":62.9},{"t":147.9,"v":63.1},{"t":148.9,"v":62.5},{"t":149.9,"v":61.6},{"t":150.9,"v":60.4},{"t":152.2,"v":60.0},{"t":153.6,"v":60.1},{"t":154.6,"v":60.0},{"t":155.6,"v":61.2},{"t":156.6,"v":62.0},{"t":157.9,"v":63.0},{"t":159,"v":62.2},{"t":159.6,"v":62.0},{"t":161,"v":61.8},{"t":161.6,"v":62.5},{"t":162.6,"v":63.2},{"t":163.7,"v":62.8},{"t":164.7,"v":62.1},{"t":166,"v":62.6},{"t":167,"v":63.1},{"t":168,"v":63.3},{"t":169,"v":62.5},{"t":170,"v":62.3},{"t":171,"v":61.0},{"t":172.4,"v":61.0},{"t":173.7,"v":60.4},{"t":175,"v":60.2},{"t":176.4,"v":60.0},{"t":177.4,"v":59.1},{"t":178.8,"v":58.8},{"t":179.8,"v":59.5},{"t":180.8,"v":59.9},{"t":182.1,"v":59.9},{"t":183.1,"v":59.9},{"t":184.5,"v":60.7},{"t":185.8,"v":61.5},{"t":187.5,"v":62.8},{"t":188.9,"v":62.1},{"t":189.9,"v":61.3},{"t":191.2,"v":61.7},{"t":192.9,"v":62.0},{"t":194.2,"v":61.0},{"t":195.2,"v":60.0},{"t":196.2,"v":59.7},{"t":197.6,"v":60.1},{"t":198.6,"v":60.8},{"t":200,"v":60.9},{"t":201.3,"v":61.6},{"t":202.6,"v":61.3},{"t":204,"v":60.9},{"t":205,"v":60.0},{"t":206.3,"v":61.6},{"t":207.6,"v":63.1},{"t":208.6,"v":63.4},{"t":209.5,"v":62.4},{"t":210.5,"v":60.8},{"t":211.5,"v":59.9},{"t":212.8,"v":60.3},{"t":213.8,"v":60.9},{"t":214.7,"v":60.7},{"t":216,"v":60.7},{"t":217.7,"v":61.2},{"t":219,"v":61.2},{"t":220,"v":60.4},{"t":221.2,"v":59.3},{"t":222.2,"v":58.9},{"t":223.5,"v":58.8},{"t":225.1,"v":58.9},{"t":226.4,"v":59.5},{"t":227.4,"v":60.7},{"t":228.4,"v":60.8},{"t":229.7,"v":60.6},{"t":230.7,"v":59.8},{"t":231.7,"v":60.7},{"t":232.6,"v":61.0},{"t":233.6,"v":61.5},{"t":234.6,"v":62.1},{"t":235.8,"v":62.7},{"t":236.5,"v":62.2},{"t":237.5,"v":62.4},{"t":238.5,"v":62.1},{"t":239.1,"v":61.7},{"t":240.1,"v":61.5},{"t":241.1,"v":60.5},{"t":242.1,"v":60.4},{"t":243,"v":60.5},{"t":244,"v":61.0},{"t":245,"v":61.4},{"t":246.6,"v":61.4},{"t":248.2,"v":61.2},{"t":249.2,"v":61.35},{"t":250.2,"v":62.05},{"t":251.2,"v":62.5},{"t":252.1,"v":63.0},{"t":253.1,"v":62.7},{"t":254.1,"v":63.2},{"t":254.7,"v":63.4},{"t":256,"v":63.1},{"t":257,"v":62.5},{"t":258,"v":62.0},{"t":259,"v":61.7},{"t":260,"v":61.0},{"t":260.9,"v":61.3},{"t":262.2,"v":61.35},{"t":263.2,"v":61.0},{"t":264.2,"v":60.4},{"t":265.2,"v":60.1},{"t":265.8,"v":59.8},{"t":266.8,"v":59.95},{"t":267.4,"v":59.6},{"t":268.4,"v":59.95},{"t":269.4,"v":60.4},{"t":270,"v":61.2},{"t":271,"v":61.6},{"t":272,"v":62.0},{"t":273,"v":61.7},{"t":274.3,"v":61.9},{"t":275.9,"v":61.6},{"t":276.9,"v":61.9},{"t":277.8,"v":61.7},{"t":278.8,"v":62.6},{"t":280.4,"v":62.7},{"t":281.4,"v":62.6},{"t":282.4,"v":61.7},{"t":283.4,"v":61.2},{"t":284.7,"v":60.6},{"t":285.7,"v":61.2},{"t":286.6,"v":61.1},{"t":287.9,"v":61.4},{"t":289.2,"v":61.8},{"t":290.9,"v":62.2},{"t":292.2,"v":61.7},{"t":293.5,"v":61.1},{"t":294.4,"v":61.0},{"t":295.4,"v":61.7},{"t":296.7,"v":62.0},{"t":297.7,"v":61.7},{"t":298.7,"v":60.8},{"t":299.3,"v":60.6},{"t":300,"v":60.4}]},
          "mark": {"type": "line", "strokeWidth": 4},
          "encoding": {"color": {"datum": "H10", "type": "nominal"}}
        }
      ]
    },
    {
      "data": {"values": [{"level": 59.6}]},
      "mark": {"type": "rule", "color": "#a6a6a6", "strokeWidth": 4},
      "encoding": {"y": {"field": "level", "type": "quantitative"}}
    }
  ]
}
